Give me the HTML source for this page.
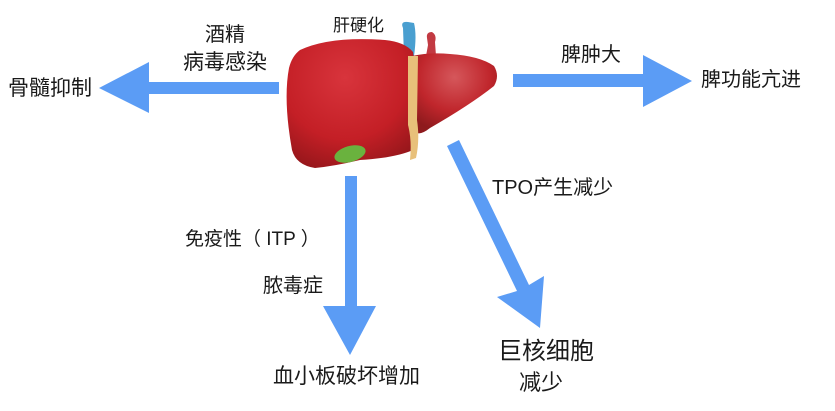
<!DOCTYPE html>
<html><head><meta charset="utf-8"><style>
html,body{margin:0;padding:0;background:#fff;}
.t{position:absolute;font-family:"Liberation Sans","Noto Sans CJK SC",sans-serif;color:#1a1a1a;white-space:nowrap;line-height:1;}
</style></head><body>
<div style="position:relative;width:835px;height:411px;overflow:hidden;">
<svg width="835" height="411" style="position:absolute;left:0;top:0">
<defs>
<radialGradient id="lv" cx="0.45" cy="0.3" r="0.8">
<stop offset="0" stop-color="#d8343c"/><stop offset="0.6" stop-color="#c41f26"/><stop offset="1" stop-color="#8e1519"/>
</radialGradient>
<radialGradient id="rv" cx="0.5" cy="0.3" r="0.7">
<stop offset="0" stop-color="#d5575b"/><stop offset="0.6" stop-color="#c0262c"/><stop offset="1" stop-color="#8e1a1d"/>
</radialGradient>
</defs>
<g fill="#5b9cf5">
<polygon points="279,82 149,82 149,62 99,88 149,113 149,94 279,94"/>
<polygon points="513,74 643,74 643,55 692,81 643,107 643,87 513,87"/>
<polygon points="345,176 357,176 357,306 376,306 350,355 323,306 345,306"/>
<polygon points="447,146 459,140 529,285 544,276 540,328 497,297 517,291"/>
</g>
<path d="M403,28 Q400,21 408,22 L414,23 Q417,35 414,56 L404,56 Z" fill="#4a9fd0"/>
<path d="M427,38 Q426,32 432,32 Q437,35 435,42 L436,56 L426,56 L428,45 Z" fill="#c23a42"/>
<path d="M412,56 Q430,52 450,54 Q480,56 494,66 Q500,76 494,86 Q470,105 430,128 Q420,136 415,132 Z" fill="url(#rv)"/>
<path d="M300,50 Q330,36 385,40 Q405,42 413,52 Q420,100 413,150 Q395,158 360,160 Q335,166 315,168 Q296,165 292,150 Q283,100 289,68 Q292,56 300,50 Z" fill="url(#lv)"/>
<path d="M408,56 L418,56 L417,120 Q420,140 416,158 L410,160 Q412,140 408,125 Z" fill="#e8c07a"/>
<ellipse cx="350" cy="154" rx="16" ry="8" fill="#6ab23e" transform="rotate(-15 350 154)"/>
</svg>
<div class="t" style="left:205px;top:25px;font-size:20px">酒精</div>
<div class="t" style="left:183px;top:52px;font-size:21px">病毒感染</div>
<div class="t" style="left:8px;top:78px;font-size:21px">骨髓抑制</div>
<div class="t" style="left:333px;top:17px;font-size:17px">肝硬化</div>
<div class="t" style="left:561px;top:45px;font-size:20px">脾肿大</div>
<div class="t" style="left:701px;top:70px;font-size:20px">脾功能亢进</div>
<div class="t" style="left:492px;top:178px;font-size:20px">TPO产生减少</div>
<div class="t" style="left:185px;top:230px;font-size:19px">免疫性（ ITP ）</div>
<div class="t" style="left:263px;top:276px;font-size:20px">脓毒症</div>
<div class="t" style="left:273px;top:366px;font-size:21px">血小板破坏增加</div>
<div class="t" style="left:498px;top:340px;font-size:24px">巨核细胞</div>
<div class="t" style="left:519px;top:372px;font-size:22px">减少</div>
</div>
</body></html>
